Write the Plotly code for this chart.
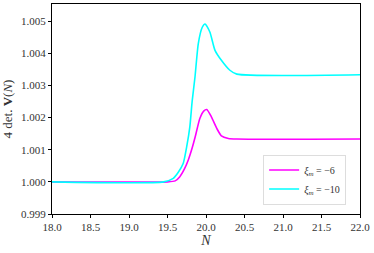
import plotly.graph_objects as go

# xi_m = -6
n_m6 = [18.0, 19.5, 19.6, 19.66, 19.72, 19.77, 19.82, 19.86, 19.92, 19.97,
        20.01, 20.07, 20.14, 20.20, 20.29, 20.40, 22.0]
v_m6 = [1.0, 1.0, 1.00003, 1.00016, 1.0004, 1.00068, 1.00105, 1.0014, 1.00197, 1.0022,
        1.00225, 1.00202, 1.00166, 1.00143, 1.00135, 1.00133, 1.00133]

# xi_m = -10
n_m10 = [18.0, 19.45, 19.575, 19.64, 19.705, 19.75, 19.79, 19.82, 19.857, 19.90,
         19.95, 19.987, 20.05, 20.117, 20.20, 20.31, 20.40, 22.0]
v_m10 = [1.0, 1.0, 1.00011, 1.0003, 1.00058, 1.0011, 1.00171, 1.0025, 1.00326, 1.0043,
         1.0048, 1.00491, 1.00466, 1.00409, 1.00378, 1.00347, 1.00335, 1.00333]

x_ticks = [18.0, 18.5, 19.0, 19.5, 20.0, 20.5, 21.0, 21.5, 22.0]
y_ticks = [0.999, 1.000, 1.001, 1.002, 1.003, 1.004, 1.005]

fig = go.Figure()
fig.add_trace(go.Scatter(
    x=n_m6, y=v_m6, mode='lines', name='<i>ξ</i><sub><i>m</i></sub> = −6',
    line=dict(color='#ff00ff', width=1.6, shape='spline', smoothing=0.6)
))
fig.add_trace(go.Scatter(
    x=n_m10, y=v_m10, mode='lines', name='<i>ξ</i><sub><i>m</i></sub> = −10',
    line=dict(color='#00ffff', width=1.6, shape='spline', smoothing=0.6)
))

axis_style = dict(
    showgrid=False, zeroline=False, showline=True, mirror=True,
    linecolor='black', linewidth=1, ticks='outside', ticklen=3,
    tickcolor='black', tickfont=dict(size=11, color='#333'),
    automargin=False
)

fig.update_layout(
    width=374, height=253,
    margin=dict(l=52, r=14, t=4, b=39),
    plot_bgcolor='white', paper_bgcolor='white',
    font=dict(family='Liberation Serif', color='#333'),
    showlegend=True,
    legend=dict(
        x=0.955, y=0.045, xanchor='right', yanchor='bottom',
        bgcolor='white', bordercolor='#ddd', borderwidth=1,
        font=dict(size=10), tracegroupgap=0, itemwidth=30
    ),
    xaxis=dict(
        range=[18, 22], tickvals=x_ticks,
        ticktext=['%.1f' % t for t in x_ticks],
        title=dict(text='<i>N</i>', standoff=0, font=dict(size=14)),
        **axis_style
    ),
    yaxis=dict(
        range=[0.999, 1.00553], tickvals=y_ticks,
        ticktext=['%.3f' % t for t in y_ticks],
        title=dict(text='4 det. <b>V</b>(<i>N</i>)', standoff=6, font=dict(size=13)),
        **axis_style
    ),
)

fig.write_html("out.html", config={'displayModeBar': False},
               post_script="document.body.style.margin='0';")
